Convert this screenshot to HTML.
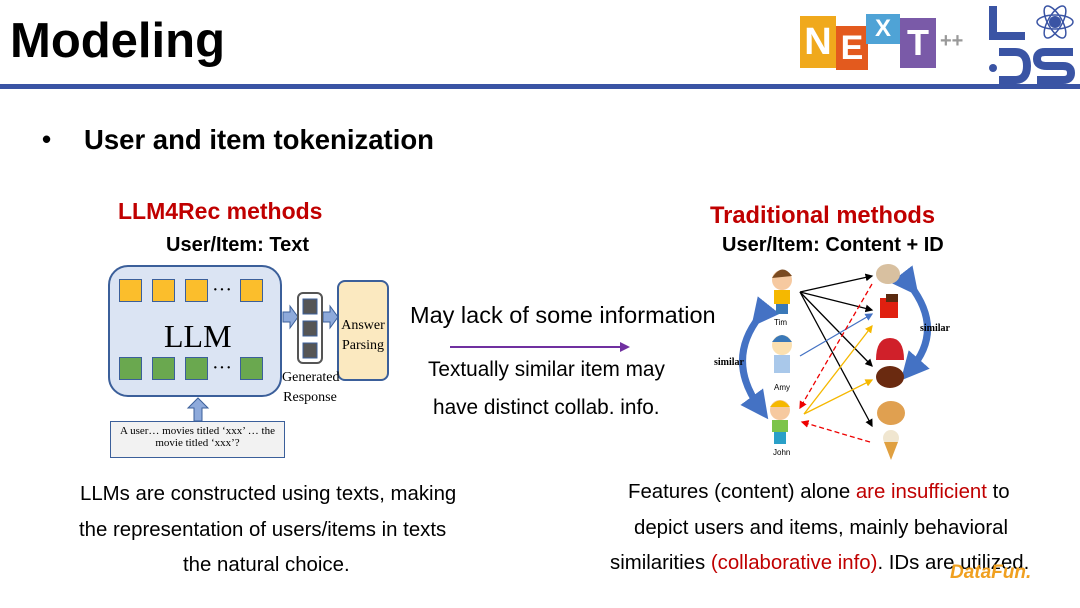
<!DOCTYPE html>
<html><head><style>
body{margin:0;width:1080px;height:608px;background:#fff;position:relative;overflow:hidden;font-family:"Liberation Sans",sans-serif}
.a{position:absolute;white-space:nowrap}
.sq{position:absolute;width:21px;height:21px;border:1.5px solid #3b5f9a}
.o{background:#fbbe2c}.g{background:#6aa84f}
.serif{font-family:"Liberation Serif",serif}
</style></head><body>
<div class="a" style="left:10px;top:13px;font-size:49px;font-weight:bold;color:#000">Modeling</div>
<div style="position:absolute;left:0;top:84px;width:1080px;height:5px;background:#3a54a4"></div>
<div class="a" style="left:800px;top:16px;width:36px;height:52px;background:#f0a91c;color:#fff;font:bold 38px 'Liberation Sans';text-align:center;line-height:52px">N</div>
<div class="a" style="left:836px;top:26px;width:32px;height:44px;background:#e35a1e;color:#fff;font:bold 34px 'Liberation Sans';text-align:center;line-height:44px">E</div>
<div class="a" style="left:866px;top:14px;width:34px;height:30px;background:#4fa3d6;color:#fff;font:bold 24px 'Liberation Sans';text-align:center;line-height:30px">X</div>
<div class="a" style="left:900px;top:18px;width:36px;height:50px;background:#7a5aa8;color:#fff;font:bold 36px 'Liberation Sans';text-align:center;line-height:50px">T</div>
<div class="a" style="left:940px;top:30px;font:bold 20px 'Liberation Sans';color:#999">++</div>
<svg class="a" style="left:985px;top:2px" width="95" height="82">
<path d="M8 4 V34 H40" stroke="#3a54a4" stroke-width="8" fill="none"/>
<circle cx="70" cy="20" r="6" fill="#3a54a4"/>
<ellipse cx="70" cy="20" rx="18" ry="7" stroke="#3a54a4" fill="none" stroke-width="1.5"/>
<ellipse cx="70" cy="20" rx="18" ry="7" stroke="#3a54a4" fill="none" stroke-width="1.5" transform="rotate(60 70 20)"/>
<ellipse cx="70" cy="20" rx="18" ry="7" stroke="#3a54a4" fill="none" stroke-width="1.5" transform="rotate(-60 70 20)"/>
<path d="M14 50 H30 Q42 50 42 64 Q42 78 30 78 H14" stroke="#3a54a4" stroke-width="8" fill="none"/>
<circle cx="8" cy="66" r="4" fill="#3a54a4"/>
<path d="M88 50 H60 Q52 50 52 57 Q52 64 62 64 H78 Q86 64 86 71 Q86 78 78 78 H52" stroke="#3a54a4" stroke-width="8" fill="none"/>
</svg>

<div class="a" style="left:42px;top:124px;font-size:26px;font-weight:bold">•</div>
<div class="a" style="left:84px;top:124px;font-size:27.5px;font-weight:bold">User and item tokenization</div>

<div class="a" style="left:118px;top:198px;font-size:23px;font-weight:bold;color:#c00000">LLM4Rec methods</div>
<div class="a" style="left:166px;top:234px;font-size:20px;font-weight:bold">User/Item: Text</div>
<div class="a" style="left:710px;top:203px;font-size:23.7px;font-weight:bold;color:#c00000">Traditional methods</div>
<div class="a" style="left:722px;top:234px;font-size:20px;font-weight:bold">User/Item: Content + ID</div>

<div class="a" style="left:108px;top:265px;width:170px;height:128px;background:#dbe4f3;border:2px solid #3b5f9a;border-radius:20px"></div>
<div class="sq o" style="left:119px;top:279px"></div><div class="sq o" style="left:152px;top:279px"></div><div class="sq o" style="left:185px;top:279px"></div><div class="sq o" style="left:240px;top:279px"></div>
<div class="sq g" style="left:119px;top:357px"></div><div class="sq g" style="left:152px;top:357px"></div><div class="sq g" style="left:185px;top:357px"></div><div class="sq g" style="left:240px;top:357px"></div>
<div class="a serif" style="left:212px;top:279px;font-size:20px">···</div>
<div class="a serif" style="left:212px;top:357px;font-size:20px">···</div>
<div class="a serif" style="left:164px;top:318px;font-size:32px">LLM</div>
<svg class="a" style="left:280px;top:290px" width="60" height="80">
<path d="M3 22 H10 V16 L18 27 L10 38 V32 H3Z" fill="#8eaadb" stroke="#3b5f9a"/>
<path d="M43 22 H50 V16 L58 27 L50 38 V32 H43Z" fill="#8eaadb" stroke="#3b5f9a"/>
<rect x="18" y="3" width="24" height="70" rx="5" fill="#fff" stroke="#555" stroke-width="2"/>
<rect x="23" y="9" width="14" height="15" fill="#555" stroke="#3b5f9a"/>
<rect x="23" y="31" width="14" height="15" fill="#555" stroke="#3b5f9a"/>
<rect x="23" y="53" width="14" height="15" fill="#555" stroke="#3b5f9a"/>
</svg>
<div class="a" style="left:337px;top:280px;width:48px;height:97px;background:#fbe9c0;border:2px solid #3b5f9a;border-radius:8px"></div>
<div class="a serif" style="left:340px;top:316px;font-size:14px;line-height:20px;text-align:center;width:46px">Answer<br>Parsing</div>
<div class="a serif" style="left:282px;top:368px;font-size:14px;line-height:20px;text-align:center;width:56px">Generated<br>Response</div>
<svg class="a" style="left:186px;top:396px" width="24" height="26"><path d="M12 2 L22 12 H16 V25 H8 V12 H2Z" fill="#8eaadb" stroke="#3b5f9a"/></svg>
<div class="a serif" style="left:110px;top:421px;width:173px;height:32px;background:#f2f2f2;border:1px solid #3b5f9a;font-size:11px;line-height:12px;text-align:center;padding-top:3px">A user… movies titled ‘xxx’ … the<br>movie titled ‘xxx’?</div>

<div class="a" style="left:410px;top:302px;font-size:23.5px">May lack of some information</div>
<div style="position:absolute;left:450px;top:346px;width:172px;height:2px;background:#7030a0"></div>
<div style="position:absolute;left:620px;top:342px;border-left:10px solid #7030a0;border-top:5px solid transparent;border-bottom:5px solid transparent"></div>
<div class="a" style="left:428px;top:358px;font-size:20.8px">Textually similar item may</div>
<div class="a" style="left:433px;top:396px;font-size:20.8px">have distinct collab. info.</div>

<svg class="a" style="left:700px;top:250px" width="280" height="215">
<defs>
<marker id="k" markerWidth="6" markerHeight="6" refX="5" refY="3" orient="auto"><path d="M0 0L6 3L0 6Z" fill="#000"/></marker>
<marker id="b" markerWidth="6" markerHeight="6" refX="5" refY="3" orient="auto"><path d="M0 0L6 3L0 6Z" fill="#4472c4"/></marker>
<marker id="y" markerWidth="6" markerHeight="6" refX="5" refY="3" orient="auto"><path d="M0 0L6 3L0 6Z" fill="#f5b800"/></marker>
<marker id="r" markerWidth="6" markerHeight="6" refX="5" refY="3" orient="auto"><path d="M0 0L6 3L0 6Z" fill="#e00"/></marker>
<marker id="B" markerWidth="4" markerHeight="4" refX="2" refY="2" orient="auto"><path d="M0 0L4 2L0 4Z" fill="#4472c4"/></marker>
</defs>
<g stroke="#000" stroke-width="1.3" marker-end="url(#k)">
<line x1="100" y1="42" x2="172" y2="26"/><line x1="100" y1="42" x2="172" y2="60"/>
<line x1="100" y1="42" x2="172" y2="116"/><line x1="100" y1="42" x2="172" y2="176"/>
</g>
<line x1="100" y1="106" x2="172" y2="64" stroke="#4472c4" stroke-width="1.3" marker-end="url(#b)"/>
<g stroke="#f5b800" stroke-width="1.3" marker-end="url(#y)"><line x1="104" y1="164" x2="172" y2="76"/><line x1="104" y1="164" x2="172" y2="130"/></g>
<g stroke="#e00" stroke-width="1.3" stroke-dasharray="5,3" marker-end="url(#r)"><line x1="172" y1="34" x2="100" y2="158"/><line x1="170" y1="192" x2="102" y2="172"/></g>
<path d="M60 66 Q25 110 60 158" stroke="#4472c4" stroke-width="7" fill="none" marker-end="url(#B)" marker-start="url(#B)"/>
<path d="M210 35 Q245 80 210 120" stroke="#4472c4" stroke-width="7" fill="none" marker-end="url(#B)" marker-start="url(#B)"/>
<g><circle cx="82" cy="30" r="10" fill="#f6c9a0"/><path d="M72 28 Q82 12 92 26" fill="#7a4a20"/><rect x="74" y="40" width="16" height="14" fill="#f5b800"/><rect x="76" y="54" width="12" height="10" fill="#3a78b8"/></g>
<g><circle cx="82" cy="95" r="10" fill="#fbe0b0"/><path d="M72 92 Q82 78 92 92" fill="#3a78b8"/><rect x="74" y="105" width="16" height="18" fill="#a9c8ea"/></g>
<g><circle cx="80" cy="160" r="10" fill="#f6c9a0"/><path d="M70 157 Q80 144 90 157" fill="#f5b800"/><rect x="72" y="170" width="16" height="12" fill="#7cc44a"/><rect x="74" y="182" width="12" height="12" fill="#2aa0c8"/></g>
<text x="74" y="75" font-size="8" font-family="Liberation Sans">Tim</text>
<text x="74" y="140" font-size="8" font-family="Liberation Sans">Amy</text>
<text x="73" y="205" font-size="8" font-family="Liberation Sans">John</text>
<text x="14" y="115" font-size="10" font-weight="bold" font-family="Liberation Serif">similar</text>
<text x="220" y="81" font-size="10" font-weight="bold" font-family="Liberation Serif">similar</text>
<ellipse cx="188" cy="24" rx="12" ry="10" fill="#d8c0a0"/>
<rect x="180" y="48" width="18" height="20" fill="#e02010"/><rect x="186" y="44" width="12" height="8" fill="#5a2a10"/>
<path d="M176 110 Q176 88 190 88 Q204 88 204 110Z" fill="#d0202a"/>
<ellipse cx="190" cy="127" rx="14" ry="11" fill="#6a2a10"/>
<ellipse cx="191" cy="163" rx="14" ry="12" fill="#e0a050"/>
<circle cx="191" cy="188" r="8" fill="#f0e6d0"/><path d="M184 192 L198 192 L191 210Z" fill="#e0a040"/>
</svg>

<div class="a" style="left:80px;top:483px;font-size:20.4px">LLMs are constructed using texts, making</div>
<div class="a" style="left:79px;top:519px;font-size:20.4px">the representation of users/items in texts</div>
<div class="a" style="left:183px;top:554px;font-size:20.4px">the natural choice.</div>
<div class="a" style="left:628px;top:481px;font-size:20.4px">Features (content) alone <span style="color:#c00000">are insufficient</span> to</div>
<div class="a" style="left:634px;top:517px;font-size:20.4px">depict users and items, mainly behavioral</div>
<div class="a" style="left:610px;top:552px;font-size:20.4px">similarities <span style="color:#c00000">(collaborative info)</span>. IDs are utilized.</div>
<div class="a" style="left:950px;top:562px;font-size:19px;font-weight:bold;font-style:italic;color:#f0a020">DataFun.</div>
</body></html>
